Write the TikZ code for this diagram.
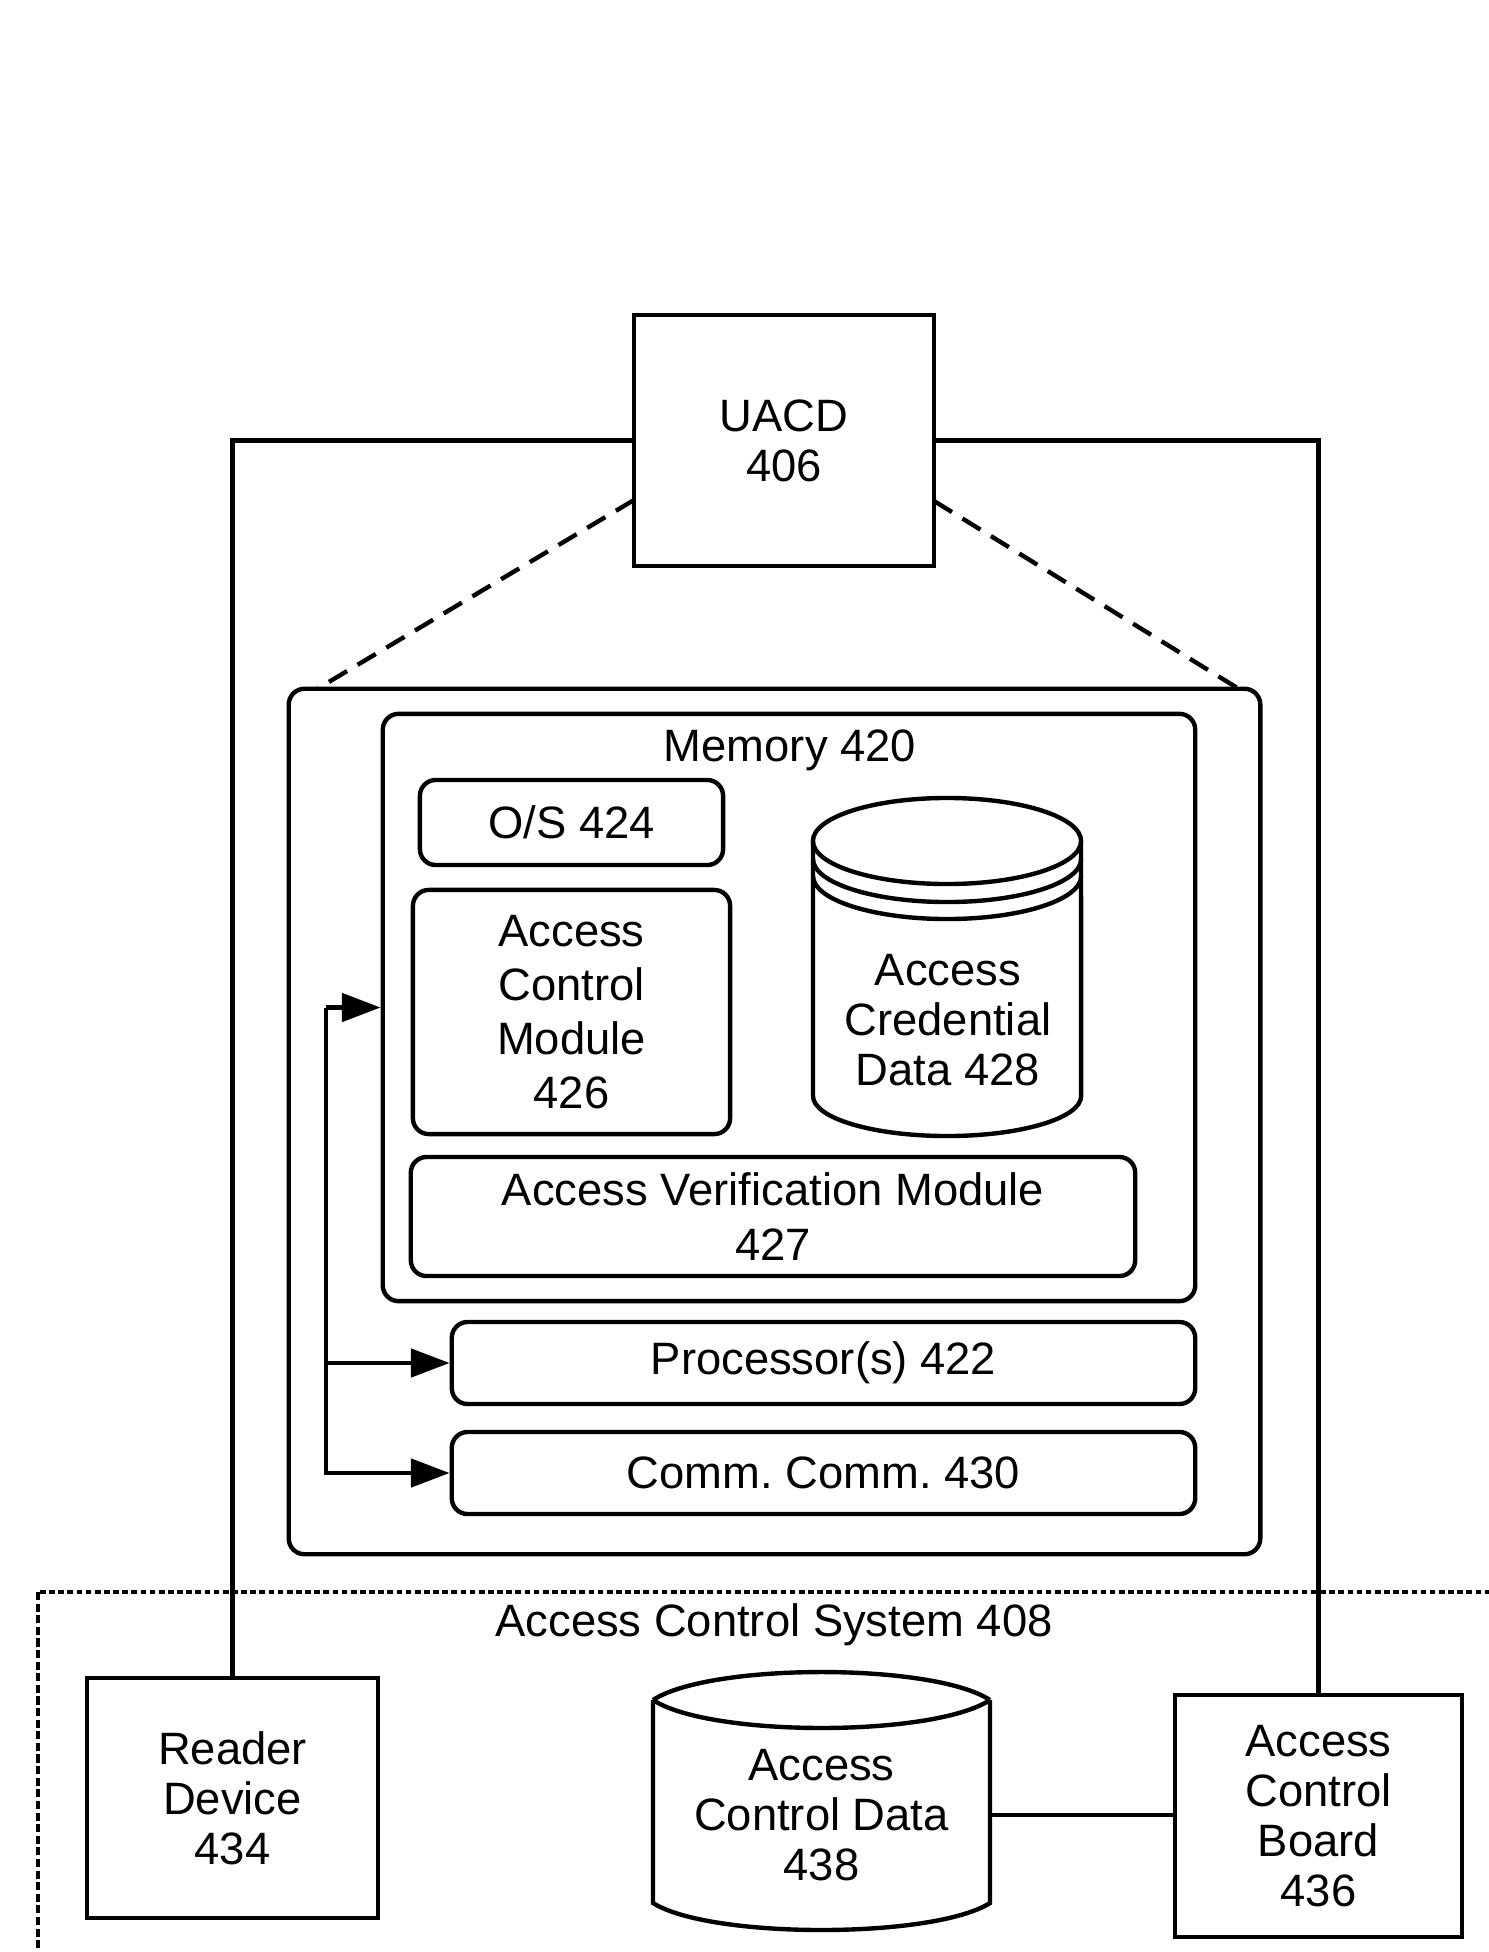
\documentclass[tikz,border=0pt]{standalone}
\usepackage{fontspec}
\setmainfont{Liberation Sans}
\usetikzlibrary{arrows.meta,calc}
\frenchspacing
\newcommand\diafont{\fontsize{12.9}{14.2}\selectfont}
\newcommand\diafontw{\fontsize{12.9}{15.4}\selectfont}
\tikzset{
  box/.style={draw, line width=1.25pt, inner sep=0pt, align=center, font=\diafont},
  rbox/.style={box, rounded corners=4.5pt},
  conn/.style={line width=1.25pt},
  arr/.style={conn, -{Triangle[length=11pt,width=8pt]}},
  zoomline/.style={line width=1.25pt, dash pattern=on 6pt off 3.5pt},
  sysline/.style={line width=1.4pt, dash pattern=on 1.6pt off 1pt},
  sysside/.style={line width=1pt, dash pattern=on 2.3pt off 1pt},
  lbl/.style={font=\diafont, align=center, inner sep=0pt}
}
\begin{document}
\begin{tikzpicture}[x=0.01cm, y=-0.01cm]
\useasboundingbox (0,0) rectangle (1489,1952);
\clip (0,0) rectangle (1489,1952);

% UACD
\node[box, minimum width=3.00cm, minimum height=2.51cm] (uacd) at (784,440.5) {UACD\\406};

% detail box
\node[rbox, minimum width=9.71cm, minimum height=8.65cm] (outer) at (774.5,1121.5) {};
\node[rbox, minimum width=8.12cm, minimum height=5.87cm] (mem) at (789,1007.5) {};
\node[lbl] (memlbl) at (790,750) {Memory 420};
\node[rbox, minimum width=3.03cm, minimum height=0.85cm] (os) at (571.5,822.5) {O/S 424};
\node[rbox, minimum width=3.17cm, minimum height=2.44cm, font=\diafontw] (acm) at (571.5,1012) {Access\\Control\\Module\\426};
\node[rbox, minimum width=7.24cm, minimum height=1.19cm, font=\diafontw] (avm) at (773,1216.5) {Access Verification Module\\427};
\node[rbox, minimum width=7.43cm, minimum height=0.82cm] (proc) at (823.5,1363) {Processor(s) 422};
\node[rbox, minimum width=7.43cm, minimum height=0.82cm] (comm) at (823.5,1473) {Comm. Comm. 430};

% credential cylinder
\node[lbl] (cred) at (948,1020.5) {Access\\Credential\\Data 428};
\draw[conn] (813,841) -- (813,1096) arc[start angle=180, end angle=360, x radius=1.34cm, y radius=0.40cm] -- (1081,841);
\draw[conn] (947,841) ellipse[x radius=1.34cm, y radius=0.43cm];
\draw[conn] (813,859) arc[start angle=180, end angle=360, x radius=1.34cm, y radius=0.43cm];
\draw[conn] (813,876) arc[start angle=180, end angle=360, x radius=1.34cm, y radius=0.43cm];

% bus arrows
\coordinate (bus) at (326,1007.5);
\draw[arr] (bus) -- (mem.west);
\draw[arr] (bus) |- (comm.west);
\draw[arr] (bus |- proc.west) -- (proc.west);

% zoom lines
\coordinate (dl1) at (634,500);
\coordinate (dl2) at (317,689);
\coordinate (dr1) at (934,501);
\coordinate (dr2) at (1239,689);
\draw[zoomline] (dl1) -- (dl2);
\draw[zoomline] (dr1) -- (dr2);

% access control system
\coordinate (syscorner) at (38,1592);
\draw[sysline] (1600,1592) -- (syscorner);
\draw[sysside] (syscorner) -- (38,2100);
\node[lbl] (acs) at (774,1625) {Access Control System 408};
\node[box, minimum width=2.91cm, minimum height=2.40cm] (reader) at (232.5,1798) {Reader\\Device\\434};
\node[box, minimum width=2.87cm, minimum height=2.42cm] (acb) at (1318.5,1816) {Access\\Control\\Board\\436};
\node[lbl, minimum width=3.37cm] (acd) at (821.5,1815) {Access\\Control Data\\438};
\draw[conn] (653,1700) .. controls (710,1662.7) and (933,1662.7) .. (990,1700);
\draw[conn] (653,1700) .. controls (710,1737.3) and (933,1737.3) .. (990,1700);
\draw[conn] (653,1700) -- (653,1903) .. controls (710,1939) and (933,1939) .. (990,1903) -- (990,1700);

% connectors
\draw[conn] (uacd.west) -| (reader.north);
\draw[conn] (uacd.east) -| (acb.north);
\draw[conn] (acd.east) -- (acd.east -| acb.west);
\end{tikzpicture}
\end{document}
